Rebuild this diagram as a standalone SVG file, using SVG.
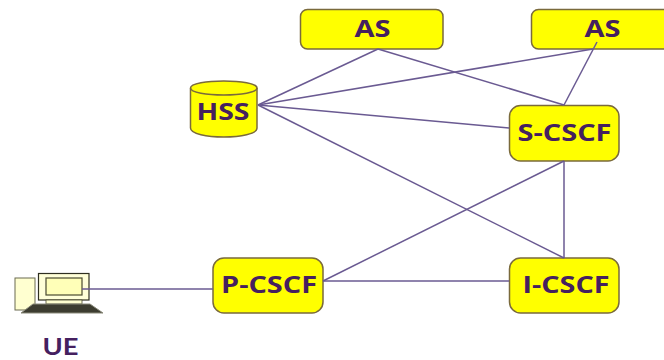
<svg xmlns="http://www.w3.org/2000/svg" width="664" height="360" viewBox="0 0 664 360">
<style>
.n{fill:#ffff00;stroke:#7a6a3c;stroke-width:1.5}
.t{font-family:"Open Sans","Liberation Sans",sans-serif;font-weight:700;font-size:23px;fill:#45205f;text-anchor:middle}
.u{font-family:"Lato","Liberation Sans",sans-serif;font-weight:700;font-size:23px;fill:#45205f;text-anchor:middle}
.c line{stroke:#6a5a92;stroke-width:1.5}
</style>
<rect width="664" height="360" fill="#ffffff"/>
<g id="as1"><rect class="n" x="300.500" y="9.500" width="142.500" height="39.500" rx="7"/><text class="t" x="372.500" y="37" textLength="36" lengthAdjust="spacingAndGlyphs">AS</text></g>
<g id="as2"><rect class="n" x="531.500" y="9.500" width="145" height="39.500" rx="7"/><text class="t" x="602.500" y="37" textLength="36" lengthAdjust="spacingAndGlyphs">AS</text></g>
<g id="hss">
<path class="n" d="M190.500 88C190.500 78.700 257 78.700 257 88V128C257 140 190.500 140 190.500 128Z"/>
<path d="M190.500 88C190.500 97.300 257 97.300 257 88" fill="none" stroke="#7a6a3c" stroke-width="1.500"/>
<text class="t" x="223" y="120" textLength="53" lengthAdjust="spacingAndGlyphs">HSS</text>
</g>
<g id="scscf"><rect class="n" x="509.500" y="105.500" width="109.500" height="55.500" rx="11"/><text class="t" x="564.500" y="140.500" textLength="94" lengthAdjust="spacingAndGlyphs">S-CSCF</text></g>
<g id="pcscf"><rect class="n" x="213" y="258" width="110" height="55" rx="11"/><text class="t" x="269" y="293" textLength="96" lengthAdjust="spacingAndGlyphs">P-CSCF</text></g>
<g id="icscf"><rect class="n" x="509.500" y="258" width="109.500" height="55" rx="11"/><text class="t" x="566" y="293" textLength="87" lengthAdjust="spacingAndGlyphs">I-CSCF</text></g>
<g id="ue">
<rect x="15" y="278" width="20" height="32" fill="#ffffd0" stroke="#6b6b50"/>
<rect x="38.500" y="273.500" width="50.500" height="26.500" fill="#ffffd8" stroke="#2f2f20" stroke-width="1.200"/>
<rect x="46" y="278" width="36" height="17" fill="#ffffb8" stroke="#4a4a30" stroke-width="1.200"/>
<rect x="46" y="300" width="36" height="4" fill="#ffffd0" stroke="#4a4a30" stroke-width="0.800"/>
<path d="M21 313L33 304H90L103 313Z" fill="#3c3c30" stroke="#8a8a7a"/>
<text class="u" x="60.500" y="355" textLength="36" lengthAdjust="spacingAndGlyphs">UE</text>
</g>
<g id="connectors" class="c">
<line x1="258" y1="105" x2="378" y2="49"/>
<line x1="378" y1="49" x2="564" y2="105"/>
<line x1="258" y1="105" x2="593" y2="49"/>
<line x1="597" y1="42" x2="564" y2="105"/>
<line x1="258" y1="105" x2="509" y2="128"/>
<line x1="258" y1="105" x2="564" y2="258"/>
<line x1="564" y1="161" x2="564" y2="258"/>
<line x1="564" y1="161" x2="323" y2="281"/>
<line x1="323" y1="281" x2="509" y2="281"/>
<line x1="82" y1="289" x2="213" y2="289"/>
</g>
</svg>
